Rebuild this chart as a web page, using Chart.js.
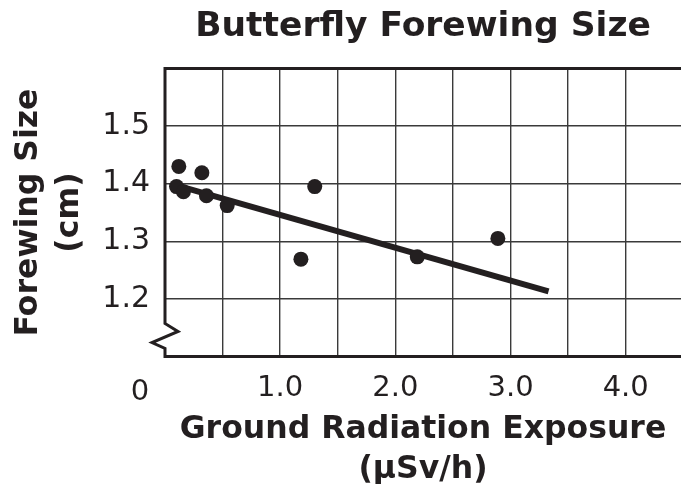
<!DOCTYPE html>
<html>
<head>
<meta charset="utf-8">
<script src="https://cdn.jsdelivr.net/npm/chart.js@4/dist/chart.umd.min.js"></script>
<style>
  html, body { margin: 0; padding: 0; background: #fff; }
  #chart { display: block; }
</style>
</head>
<body>
<canvas id="chart" width="681" height="484"></canvas>
<script>
// measured points
const xValues = [0.10, 0.12, 0.16, 0.32, 0.36, 0.54, 1.18, 1.30, 2.19, 2.89];
const yValues = [1.395, 1.430, 1.386, 1.419, 1.379, 1.362, 1.269, 1.395, 1.273, 1.305];

// best-fit line end points
const trendX = [0.10, 3.33];
const trendY = [1.397, 1.213];

// grid / tick labels
const xGrid = [0, 0.5, 1, 1.5, 2, 2.5, 3, 3.5, 4];
const xTickLabels = ['', '', '1.0', '', '2.0', '', '3.0', '', '4.0'];
const yGrid = [1.1, 1.2, 1.3, 1.4, 1.5, 1.6];
const yTickLabels = ['', '1.2', '1.3', '1.4', '1.5', ''];
const cornerLabel = '0';

const INK = '#231f20';
const FONT = "'DejaVu Sans', Verdana, sans-serif";

// left axis with a break mark, plus the "0" at the corner
const axisBreak = {
    id: 'axisBreak',
    afterDatasetsDraw(chart) {
        const { ctx, chartArea } = chart;
        const l = chartArea.left, t = chartArea.top, b = chartArea.bottom;
        ctx.save();
        ctx.strokeStyle = INK;
        ctx.lineWidth = 3;
        ctx.lineJoin = 'miter';
        ctx.beginPath();
        ctx.moveTo(l, t - 1.5);
        ctx.lineTo(l, b - 33);
        ctx.lineTo(l + 13, b - 25);
        ctx.lineTo(l - 13, b - 14);
        ctx.lineTo(l, b - 8);
        ctx.lineTo(l, b + 1.5);
        ctx.stroke();

        ctx.fillStyle = INK;
        ctx.font = '29px ' + FONT;
        ctx.textAlign = 'center';
        ctx.textBaseline = 'middle';
        ctx.fillText(cornerLabel, l - 25, b + 36);
        ctx.restore();
    }
};

new Chart(document.getElementById('chart'), {
    data: {
        datasets: [
            {
                type: 'scatter',
                data: xValues.map((x, i) => ({ x: x, y: yValues[i] })),
                backgroundColor: INK,
                borderWidth: 0,
                pointRadius: 7.5,
                pointHoverRadius: 7.5,
                order: 1
            },
            {
                type: 'line',
                data: trendX.map((x, i) => ({ x: x, y: trendY[i] })),
                borderColor: INK,
                borderWidth: 6,
                borderCapStyle: 'butt',
                pointRadius: 0,
                fill: false,
                order: 2
            }
        ]
    },
    options: {
        responsive: false,
        animation: false,
        devicePixelRatio: 1,
        layout: { padding: 0, autoPadding: false },
        plugins: {
            legend: { display: false },
            tooltip: { enabled: false },
            title: {
                display: true,
                text: 'Butterfly Forewing Size',
                color: INK,
                fullSize: false,
                font: { family: FONT, size: 34.5, weight: 'bold', lineHeight: 1.2 },
                padding: { top: 6, bottom: 21.1 }
            }
        },
        scales: {
            x: {
                type: 'linear',
                min: 0,
                max: 4.48,
                afterBuildTicks(scale) {
                    scale.ticks = xGrid.map(v => ({ value: v }));
                },
                afterFit(scale) {
                    scale.height = 127.5;
                    scale.paddingLeft = 0;
                    scale.paddingRight = 0;
                },
                ticks: {
                    color: INK,
                    font: { family: FONT, size: 29 },
                    padding: 15,
                    maxRotation: 0,
                    autoSkip: false,
                    callback: (v, i) => xTickLabels[i]
                },
                grid: {
                    drawTicks: false,
                    color: c => (c.tick && c.tick.value === 0) ? 'rgba(0,0,0,0)' : '#3a3a3a',
                    lineWidth: 1.4
                },
                border: { display: true, color: INK, width: 3 },
                title: {
                    display: true,
                    text: ['Ground Radiation Exposure', '(µSv/h)'],
                    color: INK,
                    font: { family: FONT, size: 31.5, weight: 'bold', lineHeight: 1.27 },
                    padding: { top: 0, bottom: -6 }
                }
            },
            y: {
                type: 'linear',
                min: 1.1,
                max: 1.6,
                afterBuildTicks(scale) {
                    scale.ticks = yGrid.map(v => ({ value: v }));
                },
                afterFit(scale) {
                    scale.width = 165;
                    scale.paddingTop = 0;
                    scale.paddingBottom = 0;
                },
                ticks: {
                    color: INK,
                    font: { family: FONT, size: 30 },
                    padding: 15,
                    autoSkip: false,
                    callback: (v, i) => yTickLabels[i]
                },
                grid: {
                    drawTicks: false,
                    color: c => (c.tick && c.tick.value === 1.1) ? 'rgba(0,0,0,0)' : (c.tick && c.tick.value === 1.6 ? INK : '#3a3a3a'),
                    lineWidth: c => (c.tick && c.tick.value === 1.6) ? 3 : 1.4
                },
                border: { display: false },
                title: {
                    display: true,
                    text: ['Forewing Size', '(cm)'],
                    color: INK,
                    font: { family: FONT, size: 31.5, weight: 'bold', lineHeight: 1.3 },
                    padding: { top: 8, bottom: 0 }
                }
            }
        }
    },
    plugins: [axisBreak]
});
</script>
</body>
</html>
